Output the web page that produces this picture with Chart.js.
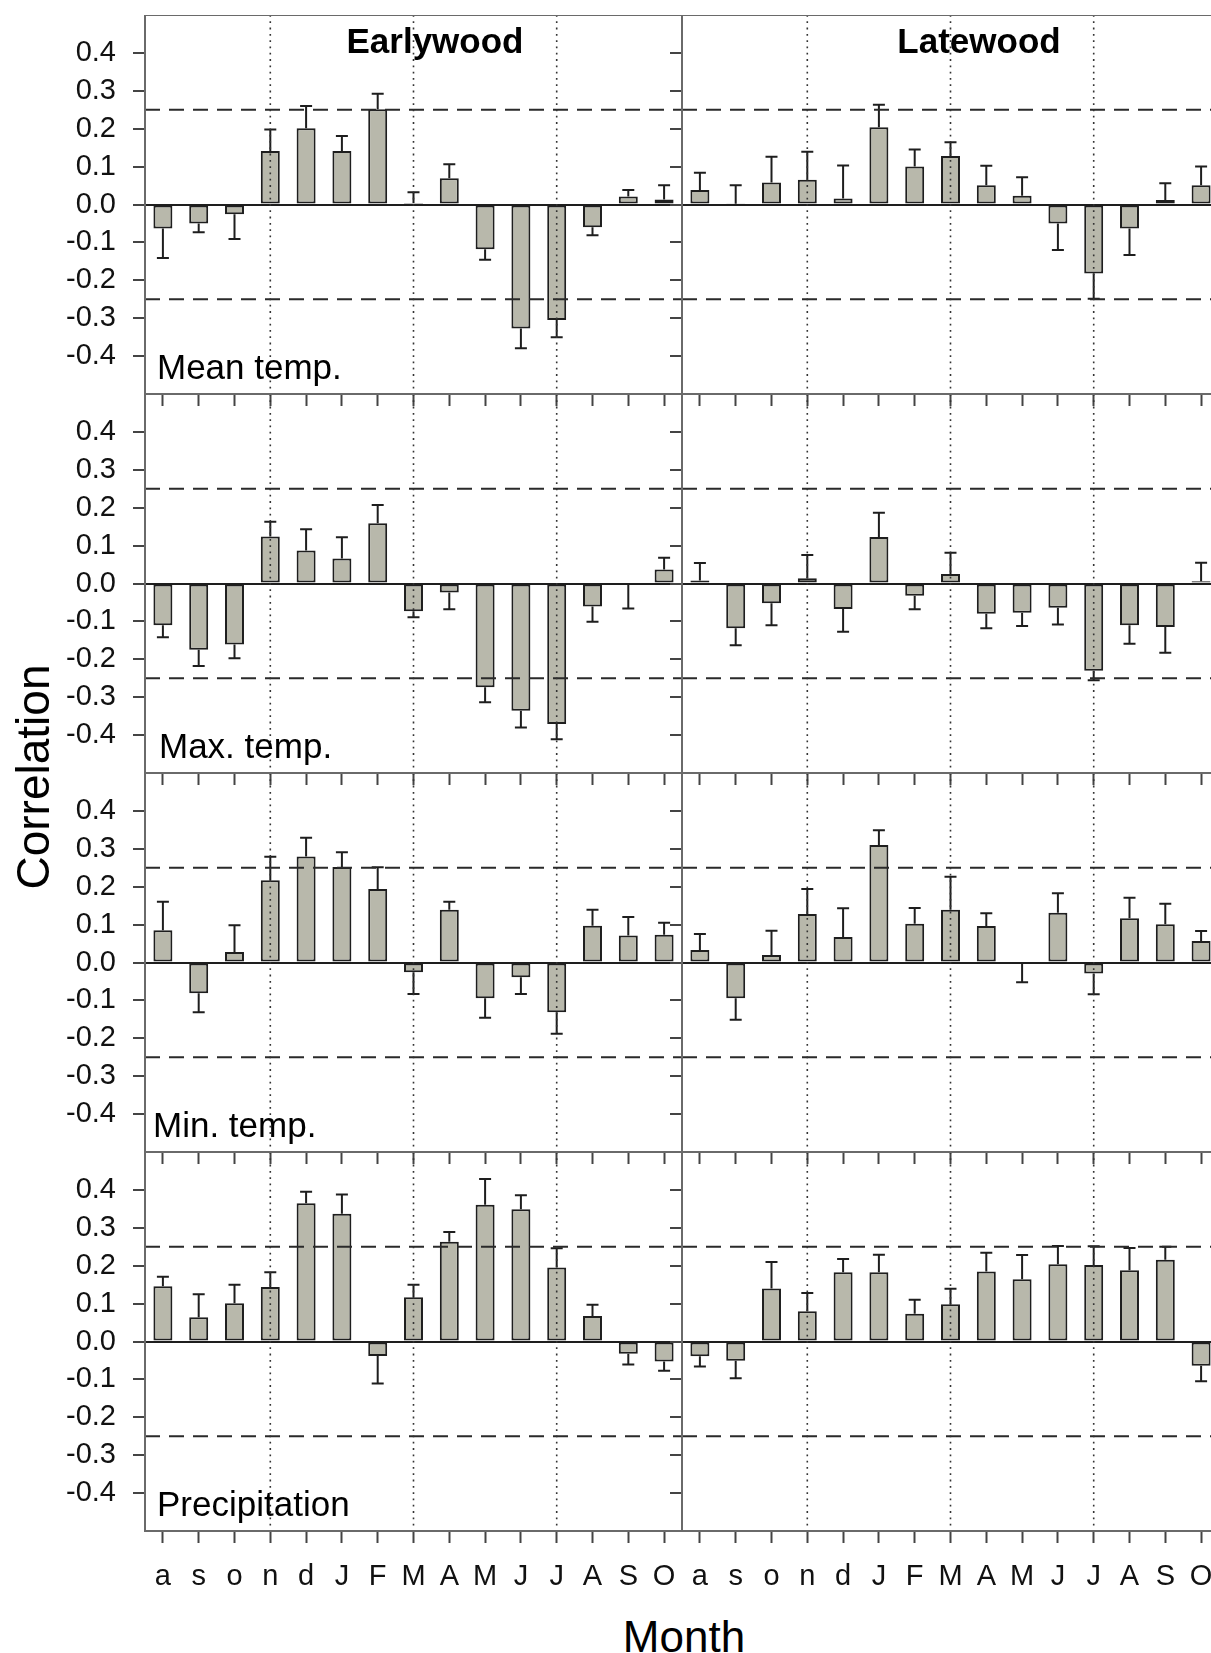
<!DOCTYPE html>
<html>
<head>
<meta charset="utf-8">
<script src="https://cdn.jsdelivr.net/npm/chart.js@4.4.1/dist/chart.umd.min.js"></script>
<style>
  html, body { margin: 0; padding: 0; background: #fff; overflow: hidden; }
  #fig { position: relative; width: 1211px; height: 1653px; overflow: hidden; background: #fff; }
  #fig canvas { position: absolute; }
  .lbl { position: absolute; font-family: 'Liberation Sans', Arial, sans-serif; color: #000; white-space: nowrap; }
</style>
</head>
<body>
<div id="fig"></div>
<script>
'use strict';

// month axis (previous year lower case, current year upper case)
const months = ['a', 's', 'o', 'n', 'd', 'J', 'F', 'M', 'A', 'M', 'J', 'J', 'A', 'S', 'O'];
const yTicks = [-0.4, -0.3, -0.2, -0.1, 0, 0.1, 0.2, 0.3, 0.4];
const thresholds = [0.25, -0.25];
const markedMonths = [3, 7, 11];   // n, M, J get a dotted line

// correlation and the end of the error whisker, per panel
const meanEarly    = [-0.063, -0.050, -0.026, 0.141, 0.201, 0.141, 0.251, 0.004, 0.069, -0.118, -0.327, -0.305, -0.060, 0.021, 0.013];
const meanEarlyErr = [-0.141, -0.073, -0.091, 0.198, 0.260, 0.181, 0.292, 0.032, 0.106, -0.146, -0.379, -0.350, -0.081, 0.038, 0.051];
const meanLate     = [0.038, 0.002, 0.058, 0.065, 0.016, 0.204, 0.100, 0.128, 0.051, 0.023, -0.050, -0.182, -0.063, 0.012, 0.051];
const meanLateErr  = [0.084, 0.051, 0.126, 0.139, 0.103, 0.263, 0.145, 0.164, 0.102, 0.072, -0.120, -0.249, -0.133, 0.056, 0.100];

const maxEarly    = [-0.110, -0.175, -0.161, 0.124, 0.087, 0.066, 0.159, -0.073, -0.024, -0.274, -0.336, -0.371, -0.061, -0.004, 0.037];
const maxEarlyErr = [-0.142, -0.218, -0.197, 0.163, 0.143, 0.122, 0.207, -0.089, -0.068, -0.313, -0.380, -0.411, -0.101, -0.066, 0.068];
const maxLate     = [0.008, -0.118, -0.052, 0.014, -0.067, 0.123, -0.032, 0.025, -0.080, -0.077, -0.064, -0.230, -0.110, -0.115, 0.006];
const maxLateErr  = [0.054, -0.163, -0.110, 0.075, -0.127, 0.187, -0.068, 0.081, -0.118, -0.112, -0.108, -0.255, -0.159, -0.183, 0.055];

const minEarly    = [0.085, -0.081, 0.028, 0.217, 0.280, 0.252, 0.194, -0.026, 0.139, -0.094, -0.039, -0.131, 0.097, 0.071, 0.073];
const minEarlyErr = [0.160, -0.131, 0.098, 0.279, 0.329, 0.291, 0.251, -0.083, 0.160, -0.146, -0.083, -0.188, 0.139, 0.120, 0.105];
const minLate     = [0.033, -0.094, 0.020, 0.128, 0.067, 0.310, 0.102, 0.139, 0.096, -0.002, 0.131, -0.029, 0.117, 0.101, 0.057];
const minLateErr  = [0.075, -0.151, 0.084, 0.194, 0.143, 0.349, 0.144, 0.226, 0.130, -0.052, 0.183, -0.084, 0.171, 0.155, 0.083];

const precEarly    = [0.146, 0.064, 0.101, 0.144, 0.365, 0.337, -0.038, 0.117, 0.263, 0.361, 0.349, 0.195, 0.067, -0.032, -0.053];
const precEarlyErr = [0.171, 0.125, 0.150, 0.183, 0.395, 0.388, -0.111, 0.150, 0.289, 0.429, 0.386, 0.246, 0.097, -0.061, -0.077];
const precLate     = [-0.039, -0.051, 0.140, 0.080, 0.183, 0.183, 0.073, 0.098, 0.185, 0.164, 0.204, 0.202, 0.188, 0.216, -0.064];
const precLateErr  = [-0.066, -0.097, 0.210, 0.128, 0.218, 0.229, 0.110, 0.139, 0.234, 0.228, 0.252, 0.251, 0.247, 0.250, -0.105];

const rows = [
    { name: 'Mean temp.',    x: 157, early: meanEarly, earlyErr: meanEarlyErr, late: meanLate, lateErr: meanLateErr },
    { name: 'Max. temp.',    x: 159, early: maxEarly,  earlyErr: maxEarlyErr,  late: maxLate,  lateErr: maxLateErr },
    { name: 'Min. temp.',    x: 153, early: minEarly,  earlyErr: minEarlyErr,  late: minLate,  lateErr: minLateErr },
    { name: 'Precipitation', x: 157, early: precEarly, earlyErr: precEarlyErr, late: precLate, lateErr: precLateErr }
];

// layout in page pixels
const TOP = 15, ROW_H = 379, LEFT = 145, MID = 682, RIGHT = 1219, TICK = 12, LABEL_H = 70;
const FONT = "'Liberation Sans', Arial, sans-serif";
const INK = '#1e1e1e';
const FRAME = '#6a6a6a';
const BAR_FILL = '#b8b8ab';

const fig = document.getElementById('fig');

const overlay = {
    id: 'overlay',
    afterDatasetsDraw(chart) {
        const ctx = chart.ctx;
        const a = chart.chartArea;
        const x = chart.scales.x;
        const y = chart.scales.y;
        const ends = chart.data.datasets[0].errEnds;
        ctx.save();

        // one-sided error whiskers
        ctx.strokeStyle = INK;
        ctx.lineWidth = 2;
        chart.getDatasetMeta(0).data.forEach((bar, i) => {
            const ye = y.getPixelForValue(ends[i]);
            ctx.beginPath();
            ctx.moveTo(bar.x, bar.y);
            ctx.lineTo(bar.x, ye);
            ctx.moveTo(bar.x - 6, ye);
            ctx.lineTo(bar.x + 6, ye);
            ctx.stroke();
        });

        // significance limits
        ctx.strokeStyle = '#2a2a2a';
        ctx.setLineDash([15, 9]);
        thresholds.forEach(v => {
            const py = y.getPixelForValue(v);
            ctx.beginPath();
            ctx.moveTo(a.left, py);
            ctx.lineTo(a.right, py);
            ctx.stroke();
        });

        // dotted month markers
        ctx.strokeStyle = '#333';
        ctx.lineWidth = 1.6;
        ctx.setLineDash([1.8, 4.5]);
        markedMonths.forEach(i => {
            const px = x.getPixelForValue(i);
            ctx.beginPath();
            ctx.moveTo(px, a.top);
            ctx.lineTo(px, a.bottom);
            ctx.stroke();
        });
        ctx.restore();
    },
    afterDraw(chart) {
        const a = chart.chartArea;
        const ctx = chart.ctx;
        ctx.save();
        ctx.strokeStyle = FRAME;
        ctx.lineWidth = 2;
        ctx.strokeRect(a.left, a.top, a.right - a.left, a.bottom - a.top);
        ctx.restore();
    }
};

function makeChart(left, top, width, height, yWidth, showY, showX, vals, ends) {
    const canvas = document.createElement('canvas');
    canvas.width = width;
    canvas.height = height;
    canvas.style.left = left + 'px';
    canvas.style.top = top + 'px';
    canvas.style.width = width + 'px';
    canvas.style.height = height + 'px';
    fig.appendChild(canvas);

    return new Chart(canvas.getContext('2d'), {
        type: 'bar',
        data: {
            labels: months,
            datasets: [{
                data: vals,
                errEnds: ends,
                backgroundColor: BAR_FILL,
                borderColor: INK,
                borderWidth: 2,
                borderSkipped: false,
                barPercentage: 0.53,
                categoryPercentage: 1
            }]
        },
        options: {
            responsive: false,
            animation: false,
            devicePixelRatio: 1,
            layout: { padding: 0, autoPadding: false },
            plugins: { legend: { display: false }, tooltip: { enabled: false } },
            scales: {
                x: {
                    type: 'category',
                    offset: true,
                    grid: { offset: false, drawOnChartArea: false, tickLength: TICK, tickColor: '#444', tickWidth: 2 },
                    border: { color: FRAME, width: 2 },
                    ticks: { display: showX, autoSkip: false, maxRotation: 0, padding: 17,
                             color: '#111', font: { family: FONT, size: 29 } },
                    afterFit(s) {
                        s.height = showX ? LABEL_H : TICK;
                        s.paddingLeft = 0;
                        s.paddingRight = 0;
                    }
                },
                y: {
                    min: -0.5,
                    max: 0.5,
                    afterBuildTicks(s) { s.ticks = yTicks.map(v => ({ value: v })); },
                    grid: {
                        color: c => (c.tick && c.tick.value === 0 ? INK : 'rgba(0,0,0,0)'),
                        lineWidth: 2,
                        tickLength: TICK, tickColor: '#444', tickWidth: 2
                    },
                    border: { color: FRAME, width: 2 },
                    ticks: { display: showY, padding: 17, color: '#111', font: { family: FONT, size: 29 },
                             callback: v => v.toFixed(1) },
                    afterFit(s) {
                        s.width = yWidth;
                        s.paddingTop = 0;
                        s.paddingBottom = 0;
                    }
                }
            }
        },
        plugins: [overlay]
    });
}

rows.forEach((row, k) => {
    const top = TOP + k * ROW_H;
    const last = k === rows.length - 1;
    const h = ROW_H + (last ? LABEL_H : TICK);
    makeChart(0, top, MID, h, LEFT, true, last, row.early, row.earlyErr);
    makeChart(MID - TICK, top, RIGHT - (MID - TICK), h, TICK, false, last, row.late, row.lateErr);
});

function addText(text, x, base, size, opts) {
    opts = opts || {};
    const d = document.createElement('div');
    d.className = 'lbl';
    d.textContent = text;
    d.style.fontSize = size + 'px';
    d.style.lineHeight = size + 'px';
    d.style.top = (base - 0.8465 * size) + 'px';
    if (opts.bold) d.style.fontWeight = 'bold';
    if (opts.center) {
        d.style.left = (x - 300) + 'px';
        d.style.width = '600px';
        d.style.textAlign = 'center';
    } else {
        d.style.left = x + 'px';
    }
    fig.appendChild(d);
    return d;
}

addText('Earlywood', 435, 53, 35, { bold: true, center: true });
addText('Latewood', 979, 53, 35, { bold: true, center: true });
rows.forEach((row, k) => addText(row.name, row.x, TOP + (k + 1) * ROW_H - 15, 35));
addText('Month', 684, 1652, 44, { center: true });

const yTitle = addText('Correlation', 33, 0, 46, { center: true });
yTitle.style.top = (777 - 23) + 'px';
yTitle.style.transform = 'rotate(-90deg)';
</script>
</body>
</html>
